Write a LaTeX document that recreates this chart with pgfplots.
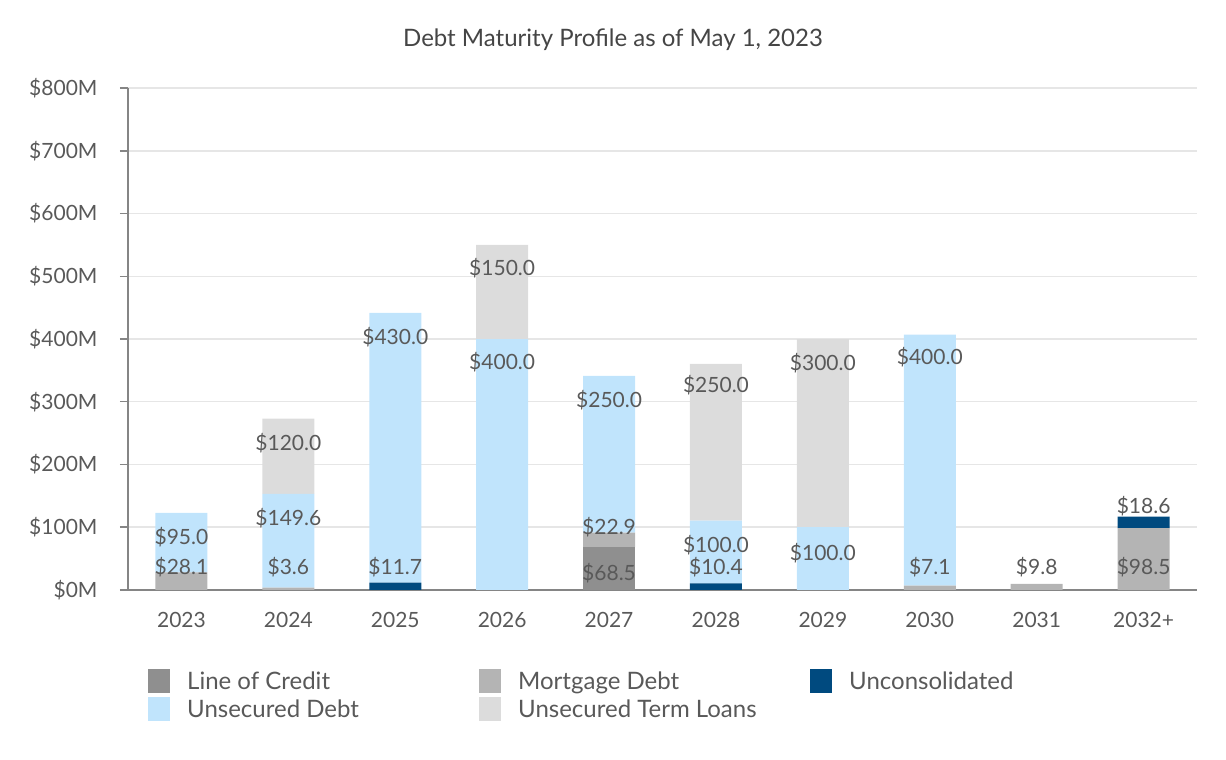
\documentclass[border=0pt]{standalone}
\usepackage{pgfplots}
\usepackage{pgfplotstable}
\pgfplotsset{compat=1.18}
\usepackage{fontspec}
\setmainfont{Lato}
\definecolor{loc}{HTML}{8F8F8F}
\definecolor{mort}{HTML}{B4B4B4}
\definecolor{uncon}{HTML}{004A7F}
\definecolor{unsec}{HTML}{C0E4FC}
\definecolor{term}{HTML}{DCDCDC}
\definecolor{txt}{HTML}{595959}
\definecolor{ttl}{HTML}{454545}
\definecolor{gridc}{HTML}{E6E6E6}
\definecolor{axc}{HTML}{858585}

\pgfplotstableread{
x loc mort uncon unsec term
0 0 28.1 0 95.0 0
1 0 3.6 0 149.6 120
2 0 0 11.7 430 0
3 0 0 0 400 150
4 68.5 22.9 0 250 0
5 0 0 10.4 100 250
6 0 0 0 100 300
7 0 7.1 0 400 0
8 0 9.8 0 0 0
9 0 98.5 18.6 0 0
}\debt

\pgfplotstableread{
x y lab
0 84.5 \$95.0
0 36.7 \$28.1
1 234 \$120.0
1 114.7 \$149.6
1 36.7 \$3.6
2 403 \$430.0
2 36.7 \$11.7
3 513 \$150.0
3 363 \$400.0
4 303 \$250.0
4 100.4 \$22.9
4 27 \$68.5
5 327 \$250.0
5 71.7 \$100.0
5 36.7 \$10.4
6 362 \$300.0
6 59 \$100.0
7 371 \$400.0
7 36.7 \$7.1
8 36.7 \$9.8
9 134 \$18.6
9 36.7 \$98.5
}\labels

\begin{document}
\begin{tikzpicture}
\useasboundingbox (0,0) rectangle (1226pt,760pt);
\node[font=\fontsize{24}{28}\selectfont, text=ttl] at (613pt,720pt) {Debt Maturity Profile as of May 1, 2023};
\begin{axis}[
  at={(128pt,170pt)}, anchor=south west,
  scale only axis, width=1069pt, height=502pt,
  ybar stacked, bar width=52pt,
  xmin=-0.5, xmax=9.5, ymin=0, ymax=800,
  axis lines=left, axis line style={-, axc, line width=1.6pt},
  xtick={0,...,9},
  xticklabels={2023,2024,2025,2026,2027,2028,2029,2030,2031,2032+},
  xtick style={draw=none},
  minor xtick={-0.5,0.5,...,9.5},
  minor tick length=10pt, major tick length=8pt,
  tick align=outside,
  minor tick style={axc, line width=1.5pt},
  ytick={0,100,...,800},
  yticklabels={\$0M,\$100M,\$200M,\$300M,\$400M,\$500M,\$600M,\$700M,\$800M},
  ytick style={axc, line width=1.5pt},
  ymajorgrids, grid style={gridc, line width=1.5pt},
  ticklabel style={font=\fontsize{21}{25}\selectfont, text=txt},
  xticklabel style={yshift=-11pt},
  yticklabel style={xshift=-19pt},
  legend columns=3,
  legend style={at={(20pt,-79pt)}, anchor=north west, draw=none, fill=none,
    inner sep=0pt, row sep=4pt, font=\fontsize{24}{28}\selectfont, text=txt,
    /tikz/every even column/.append style={column sep=0pt}},
  legend cell align=left,
  legend image code/.code={\fill[#1] (0pt,-12pt) rectangle (22pt,12pt);},
]
\addplot[fill=loc, draw=none] table[x=x,y=loc]{\debt};
\addlegendentry{\makebox[305pt][l]{\hspace{15pt}Line of Credit}}
\addplot[fill=mort, draw=none] table[x=x,y=mort]{\debt};
\addlegendentry{\makebox[305pt][l]{\hspace{15pt}Mortgage Debt}}
\addplot[fill=uncon, draw=none] table[x=x,y=uncon]{\debt};
\addlegendentry{\makebox[305pt][l]{\hspace{15pt}Unconsolidated}}
\addplot[fill=unsec, draw=none] table[x=x,y=unsec]{\debt};
\addlegendentry{\makebox[305pt][l]{\hspace{15pt}Unsecured Debt}}
\addplot[fill=term, draw=none] table[x=x,y=term]{\debt};
\addlegendentry{\makebox[305pt][l]{\hspace{15pt}Unsecured Term Loans}}
\end{axis}
\begin{axis}[
  at={(128pt,170pt)}, anchor=south west,
  scale only axis, width=1069pt, height=502pt,
  xmin=-0.5, xmax=9.5, ymin=0, ymax=800,
  hide axis, clip=false,
]
\addplot[draw=none, mark=none, nodes near coords, point meta=explicit symbolic,
  nodes near coords style={anchor=center, font=\fontsize{21}{25}\selectfont, text=txt, inner sep=0pt}]
  table[x=x,y=y,meta=lab]{\labels};
\end{axis}
\end{tikzpicture}
\end{document}
